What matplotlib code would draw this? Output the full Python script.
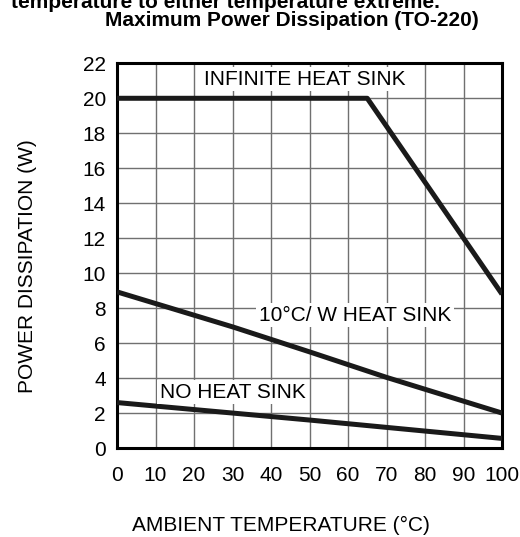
import matplotlib
matplotlib.use("Agg")
import matplotlib.pyplot as plt

# Data
inf_x = [0, 65, 100]
inf_w = [20, 20, 8.8]

hs10_x = [0, 30, 50, 70, 100]
hs10_w = [8.93, 6.93, 5.5, 4.04, 2.0]

nohs_x = [0, 50, 100]
nohs_w = [2.6, 1.6, 0.55]

x_ticks = list(range(0, 101, 10))
y_ticks = list(range(0, 23, 2))

chart_font = ["Liberation Sans", "DejaVu Sans"]

fig = plt.figure(figsize=(5.2, 5.37), dpi=100)
ax = fig.add_axes([0.225, 0.1657, 0.7404, 0.7164])

for xs, ws in [(inf_x, inf_w), (hs10_x, hs10_w), (nohs_x, nohs_w)]:
    ax.plot(xs, ws, color="#1a1a1a", lw=3.6, solid_capstyle="butt", zorder=3)

ax.set_xlim(0, 100)
ax.set_ylim(0, 22)
ax.set_xticks(x_ticks)
ax.set_yticks(y_ticks)
ax.tick_params(length=0, labelsize=15, pad=8)
ax.tick_params(axis="x", pad=13)
for lab in ax.get_xticklabels() + ax.get_yticklabels():
    lab.set_family(chart_font)
ax.grid(True, color="#707070", lw=1.0)
for sp in ax.spines.values():
    sp.set_linewidth(2.2)
    sp.set_color("black")

box = dict(facecolor="white", edgecolor="none", pad=2)
ax.text(48.9, 21.1, "INFINITE HEAT SINK", ha="center", va="center",
        fontsize=15, family=chart_font, bbox=box, zorder=4)
ax.text(61.8, 7.6, "10°C/ W HEAT SINK", ha="center", va="center",
        fontsize=15, family=chart_font, bbox=box, zorder=4)
ax.text(30.1, 3.2, "NO HEAT SINK", ha="center", va="center",
        fontsize=15, family=chart_font, bbox=box, zorder=4)

fig.text(0.54, 0.0223, "AMBIENT TEMPERATURE (°C)", ha="center", va="center",
         fontsize=15, family=chart_font)
fig.text(0.052, 0.505, "POWER DISSIPATION (W)", ha="center", va="center",
         rotation=90, fontsize=15, family=chart_font)

fig.text(0.5615, 0.9516, "Maximum Power Dissipation (TO-220)", ha="center",
         va="baseline", fontsize=15, fontweight="bold", family="Liberation Sans")
fig.text(0.846, 0.985, "temperature to either temperature extreme.",
         ha="right", va="baseline", fontsize=15, fontweight="bold",
         family="Liberation Sans")

fig.savefig("out.png", dpi=100)
